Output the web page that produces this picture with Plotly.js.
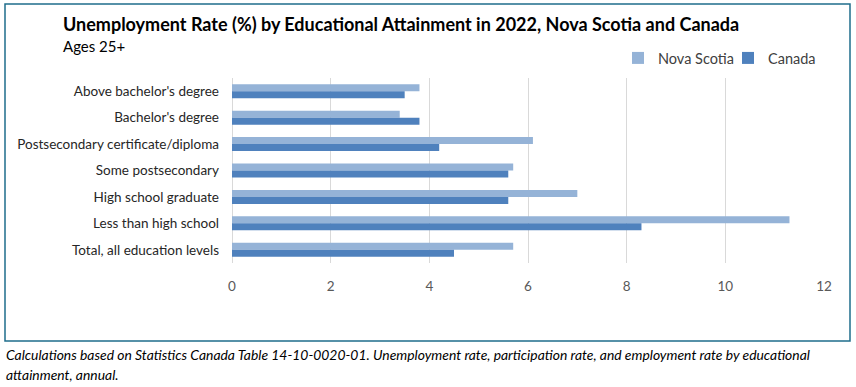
<!DOCTYPE html>
<html>
<head>
<meta charset="utf-8">
<script src="https://cdn.plot.ly/plotly-3.0.1.min.js"></script>
<style>
html,body{margin:0;padding:0;background:#fff;}
#chart{width:856px;height:387px;}
</style>
</head>
<body>
<div id="chart"></div>
<script>
const categories = [
  "Above bachelor's degree",
  "Bachelor's degree",
  "Postsecondary certificate/diploma",
  "Some postsecondary",
  "High school graduate",
  "Less than high school",
  "Total, all education levels"
];
const novaScotia = [3.8, 3.4, 6.1, 5.7, 7.0, 11.3, 5.7];
const canada = [3.5, 3.8, 4.2, 5.6, 5.6, 8.3, 4.5];
const xTicks = [0, 2, 4, 6, 8, 10, 12];

const W = 856, H = 387;
const M = {l: 232, r: 32, t: 78, b: 124, autoexpand: false};
const pw = W - M.l - M.r, ph = H - M.t - M.b;
const px = x => (x - M.l) / pw;
const py = y => (H - M.b - y) / ph;

const FONT = "Lato, 'Open Sans', sans-serif";

const traces = [
  {type: 'bar', orientation: 'h', name: 'Nova Scotia', y: categories, x: novaScotia,
   marker: {color: '#95B3D7'}, hoverinfo: 'x+name'},
  {type: 'bar', orientation: 'h', name: 'Canada', y: categories, x: canada,
   marker: {color: '#4F81BD'}, hoverinfo: 'x+name'}
];

const layout = {
  width: W, height: H,
  margin: M,
  paper_bgcolor: '#fff', plot_bgcolor: '#fff',
  font: {family: FONT, color: '#404040', size: 13},
  barmode: 'group', bargap: 0.47, bargroupgap: 0,
  title: {
    text: '<b>Unemployment Rate (%) by Educational Attainment in 2022, Nova Scotia and Canada</b>',
    font: {family: FONT, size: 18, color: '#000'},
    xref: 'container', x: 63 / W, xanchor: 'left',
    yref: 'container', y: 1 - 25 / H, yanchor: 'middle'
  },
  xaxis: {
    range: [0, 12], tickvals: xTicks, ticktext: xTicks.map(String),
    showgrid: true, gridcolor: '#D9D9D9', gridwidth: 1,
    zeroline: true, zerolinecolor: '#D9D9D9', zerolinewidth: 1,
    showline: false, ticks: '', ticklabelstandoff: 13,
    tickfont: {family: FONT, size: 13.5, color: '#595959'},
    fixedrange: true
  },
  yaxis: {
    type: 'category', autorange: 'reversed',
    showgrid: false, zeroline: false, showline: false, ticks: '',
    ticklabelstandoff: 12,
    tickfont: {family: FONT, size: 13.5, color: '#262626'},
    fixedrange: true
  },
  legend: {
    orientation: 'h', x: px(618), xanchor: 'left', y: py(58), yanchor: 'middle',
    font: {family: FONT, size: 14.5, color: '#404040'},
    bgcolor: 'rgba(0,0,0,0)', itemwidth: 30, tracegroupgap: 0,
    entrywidth: 65, entrywidthmode: 'pixels'
  },
  shapes: [
    {type: 'rect', xref: 'paper', yref: 'paper',
     x0: px(5), x1: px(850), y0: py(341), y1: py(4),
     line: {color: '#1F6E8C', width: 1.5}, fillcolor: 'rgba(0,0,0,0)', layer: 'below'}
  ],
  annotations: [
    {xref: 'paper', yref: 'paper', x: px(61), y: py(46), xanchor: 'left', yanchor: 'middle',
     text: 'Ages 25+', showarrow: false, font: {family: FONT, size: 15, color: '#000'}},
    {xref: 'paper', yref: 'paper', x: px(4), y: py(354), xanchor: 'left', yanchor: 'middle',
     text: '<i>Calculations based on Statistics Canada Table 14-10-0020-01. Unemployment rate, participation rate, and employment rate by educational</i>',
     showarrow: false, font: {family: FONT, size: 13.9, color: '#000'}},
    {xref: 'paper', yref: 'paper', x: px(4), y: py(374), xanchor: 'left', yanchor: 'middle',
     text: '<i>attainment, annual.</i>',
     showarrow: false, font: {family: FONT, size: 13.9, color: '#000'}}
  ]
};

Plotly.newPlot('chart', traces, layout, {displayModeBar: false, staticPlot: true});
</script>
</body>
</html>
